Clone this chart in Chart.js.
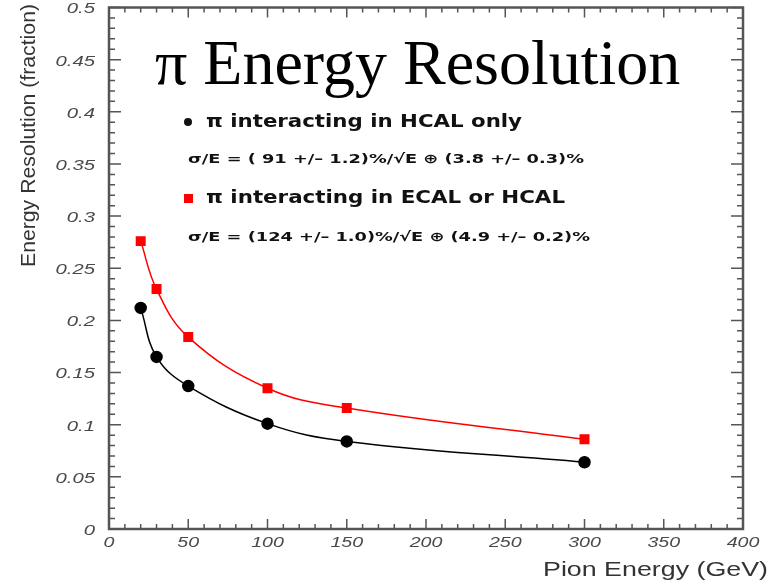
<!DOCTYPE html>
<html>
<head>
<meta charset="utf-8">
<title>Pion Energy Resolution</title>
<script src="https://cdn.jsdelivr.net/npm/chart.js@4/dist/chart.umd.min.js"></script>
<style>
  html, body { margin: 0; padding: 0; background: #fff; }
  #wrap { width: 770px; height: 584px; position: relative; }
</style>
</head>
<body>
<div id="wrap"><canvas id="resChart"></canvas></div>
<script>
// pion beam energies (GeV)
const energies = [20, 30, 50, 100, 150, 300];
// sigma/E
const hcalOnly = [0.212, 0.165, 0.137, 0.101, 0.084, 0.064];
const ecalOrHcal = [0.276, 0.230, 0.184, 0.135, 0.116, 0.086];

const titleText = "\u03c0 Energy Resolution";
const legendLabels = ["\u03c0 interacting in HCAL only", "\u03c0 interacting in ECAL or HCAL"];
const fitLabels = [
  "\u03c3/E = ( 91 +/\u2013 1.2)%/\u221aE \u2295 (3.8 +/\u2013 0.3)%",
  "\u03c3/E = (124 +/\u2013 1.0)%/\u221aE \u2295 (4.9 +/\u2013 0.2)%"
];
const xTitle = "Pion Energy (GeV)";
const yTitle = "Energy Resolution (fraction)";

function toPoints(xs, ys) {
  return xs.map((x, i) => ({ x: x, y: ys[i] }));
}

// text in the original is horizontally stretched, so squeeze/stretch to a width
function wideText(ctx, text, x, y, sx, align) {
  ctx.save();
  ctx.translate(x, y);
  ctx.scale(sx, 1);
  ctx.textAlign = align || "left";
  ctx.fillText(text, 0, 0);
  ctx.restore();
}
function fitText(ctx, text, x, y, width, align) {
  const w = ctx.measureText(text).width;
  wideText(ctx, text, x, y, width / w, align);
}

const axisColor = "#555";
const sans = "'Liberation Sans', Arial, sans-serif";

// frame, inward ticks, tick labels and all annotation text
const framePlugin = {
  id: "frame",
  afterDraw(chart) {
    const ctx = chart.ctx;
    const area = chart.chartArea;
    const xs = chart.scales.x;
    const ys = chart.scales.y;
    ctx.save();
    ctx.strokeStyle = axisColor;
    ctx.lineWidth = 2.5;
    ctx.strokeRect(area.left, area.top, area.right - area.left, area.bottom - area.top);
    ctx.lineWidth = 1.5;
    ctx.beginPath();
    for (let v = 0; v <= 400; v += 10) {
      const px = xs.getPixelForValue(v);
      const len = v % 50 === 0 ? 10 : 5;
      ctx.moveTo(px, area.bottom); ctx.lineTo(px, area.bottom - len);
      ctx.moveTo(px, area.top); ctx.lineTo(px, area.top + len);
    }
    for (let k = 0; k <= 50; k++) {
      const py = ys.getPixelForValue(k / 100);
      const len = k % 5 === 0 ? 12 : 6;
      ctx.moveTo(area.left, py); ctx.lineTo(area.left + len, py);
      ctx.moveTo(area.right, py); ctx.lineTo(area.right - len, py);
    }
    ctx.stroke();

    // tick labels from the scales
    ctx.fillStyle = "#4a4a4a";
    ctx.font = "italic 14px " + sans;
    ctx.textBaseline = "middle";
    xs.ticks.forEach(t => {
      wideText(ctx, String(t.value), xs.getPixelForValue(t.value), area.bottom + 14, 1.4, "center");
    });
    ys.ticks.forEach(t => {
      const lab = String(+t.value.toFixed(2));
      wideText(ctx, lab, area.left - 14, ys.getPixelForValue(t.value) + 2, 1.45, "right");
    });

    // axis titles
    ctx.fillStyle = "#333";
    ctx.font = "21px " + sans;
    ctx.textBaseline = "alphabetic";
    fitText(ctx, xTitle, 768, 576, 225, "right");
    ctx.save();
    ctx.translate(35, 4);
    ctx.rotate(-Math.PI / 2);
    fitText(ctx, yTitle, 0, 0, 263, "right");
    ctx.restore();

    // big title
    ctx.fillStyle = "#000";
    ctx.font = "64px 'Liberation Serif', 'Times New Roman', serif";
    ctx.textAlign = "left";
    ctx.fillText(titleText, 155, 84);

    // legend block
    ctx.fillStyle = "#111";
    ctx.beginPath();
    ctx.arc(188, 122, 4, 0, Math.PI * 2);
    ctx.fill();
    ctx.fillStyle = "#ff0000";
    ctx.fillRect(184, 194, 9, 9);

    ctx.fillStyle = "#111";
    ctx.textBaseline = "middle";
    ctx.font = "bold 18px 'DejaVu Sans', sans-serif";
    fitText(ctx, legendLabels[0], 206, 122, 316);
    fitText(ctx, legendLabels[1], 206, 198, 359);
    ctx.font = "bold 13px 'DejaVu Sans', sans-serif";
    fitText(ctx, fitLabels[0], 188, 160, 396);
    fitText(ctx, fitLabels[1], 188, 238, 402);
    ctx.restore();
  }
};

const ctx = document.getElementById("resChart").getContext("2d");
new Chart(ctx, {
  type: "line",
  data: {
    datasets: [
      {
        label: legendLabels[1],
        data: toPoints(energies, ecalOrHcal),
        borderColor: "#ff0000",
        backgroundColor: "#ff0000",
        borderWidth: 1.5,
        pointStyle: "rect",
        pointRadius: 6,
        pointHoverRadius: 6,
        tension: 0.4
      },
      {
        label: legendLabels[0],
        data: toPoints(energies, hcalOnly),
        borderColor: "#000",
        backgroundColor: "#000",
        borderWidth: 1.5,
        pointStyle: "circle",
        pointRadius: 5.5,
        pointHoverRadius: 5.5,
        tension: 0.4
      }
    ]
  },
  options: {
    responsive: true,
    maintainAspectRatio: false,
    animation: false,
    layout: { padding: { top: 4, right: 27, left: 0, bottom: 0 } },
    plugins: {
      legend: { display: false },
      tooltip: { enabled: false }
    },
    scales: {
      x: {
        type: "linear",
        min: 0,
        max: 400,
        ticks: { stepSize: 50, display: false },
        grid: { drawOnChartArea: false, drawTicks: false },
        border: { display: false },
        afterFit(scale) {
          scale.height = 55;
          scale.paddingLeft = 0; scale.paddingRight = 0;
        }
      },
      y: {
        min: 0,
        max: 0.5,
        ticks: { stepSize: 0.05, display: false },
        grid: { drawOnChartArea: false, drawTicks: false },
        border: { display: false },
        afterFit(scale) {
          scale.width = 109;
          scale.paddingTop = 0; scale.paddingBottom = 0;
        }
      }
    }
  },
  plugins: [framePlugin]
});
</script>
</body>
</html>
